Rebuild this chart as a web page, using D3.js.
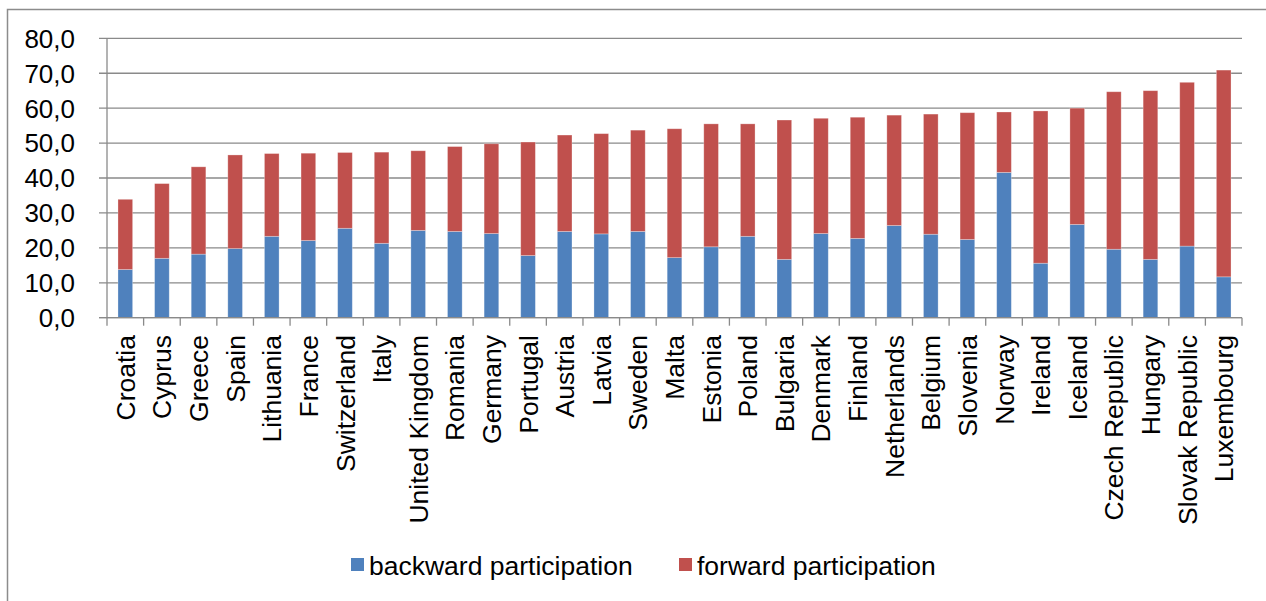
<!DOCTYPE html>
<html>
<head>
<meta charset="utf-8">
<script src="https://cdn.jsdelivr.net/npm/d3@7.9.0/dist/d3.min.js"></script>
<style>
  html, body { margin: 0; padding: 0; background: #fff; }
  svg { display: block; font-family: "Liberation Sans", Arial, sans-serif; }
</style>
</head>
<body>
<svg id="chart" width="1266" height="601"></svg>
<script>
// countries, sorted by total participation
const countries = ['Croatia', 'Cyprus', 'Greece', 'Spain', 'Lithuania', 'France', 'Switzerland',
  'Italy', 'United Kingdom', 'Romania', 'Germany', 'Portugal', 'Austria', 'Latvia', 'Sweden',
  'Malta', 'Estonia', 'Poland', 'Bulgaria', 'Denmark', 'Finland', 'Netherlands', 'Belgium',
  'Slovenia', 'Norway', 'Ireland', 'Iceland', 'Czech Republic', 'Hungary', 'Slovak Republic',
  'Luxembourg'];

const backward = [13.8, 17.0, 18.2, 19.8, 23.3, 22.1, 25.6, 21.3, 25.0, 24.7, 24.1, 17.8, 24.7,
  24.0, 24.7, 17.2, 20.3, 23.3, 16.7, 24.1, 22.7, 26.4, 23.9, 22.4, 41.6, 15.6, 26.7, 19.6,
  16.7, 20.5, 11.7];

const total = [33.9, 38.4, 43.2, 46.6, 47.0, 47.1, 47.3, 47.4, 47.8, 49.0, 49.8, 50.3, 52.3,
  52.7, 53.7, 54.1, 55.5, 55.5, 56.6, 57.1, 57.4, 58.0, 58.3, 58.7, 58.9, 59.2, 60.0, 64.7,
  65.0, 67.4, 70.9];

const forward = total.map((t, i) => +(t - backward[i]).toFixed(1));

const yTicks = [0, 10, 20, 30, 40, 50, 60, 70, 80];
const seriesNames = ['backward participation', 'forward participation'];
const colors = ['#4F81BD', '#C0504D'];

const svg = d3.select('#chart');
const margin = { left: 107, right: 1242, top: 38.3, bottom: 317.7 };
const fontSize = 26.5;

// outer frame (only top and left edges show)
svg.append('path')
  .attr('d', 'M7.5,601 V9.5 H1266')
  .attr('fill', 'none')
  .attr('stroke', '#8c8c8c')
  .attr('stroke-width', 1.5);

const x = d3.scaleBand()
  .domain(countries)
  .range([margin.left, margin.right])
  .paddingInner(0.6)
  .paddingOuter(0.3);

const y = d3.scaleLinear()
  .domain([0, 80])
  .range([margin.bottom, margin.top]);

// gridlines
svg.append('g')
  .selectAll('line')
  .data(yTicks)
  .join('line')
  .attr('x1', margin.left - 8)
  .attr('x2', margin.right)
  .attr('y1', d => y(d))
  .attr('y2', d => y(d))
  .attr('stroke', '#8a8a8a')
  .attr('stroke-width', 1.3);

// y labels
svg.append('g')
  .selectAll('text')
  .data(yTicks)
  .join('text')
  .attr('x', 75)
  .attr('y', d => y(d))
  .attr('dy', '0.36em')
  .attr('text-anchor', 'end')
  .attr('font-size', 26)
  .attr('fill', '#000')
  .text(d => d.toFixed(1).replace('.', ','));

// stacked bars
const stackData = countries.map((c, i) => ({ country: c, backward: backward[i], forward: forward[i] }));
const layers = d3.stack().keys(['backward', 'forward'])(stackData);

svg.append('g')
  .selectAll('g')
  .data(layers)
  .join('g')
  .attr('fill', (d, i) => colors[i])
  .selectAll('rect')
  .data(d => d)
  .join('rect')
  .attr('x', d => x(d.data.country))
  .attr('width', x.bandwidth())
  .attr('y', d => y(d[1]))
  .attr('height', d => y(d[0]) - y(d[1]))
  .attr('stroke', 'rgba(255,255,255,0.35)')
  .attr('stroke-width', 0.8);

// axis lines
svg.append('line')
  .attr('x1', margin.left).attr('x2', margin.left)
  .attr('y1', margin.top).attr('y2', margin.bottom)
  .attr('stroke', '#8a8a8a').attr('stroke-width', 1.3);

svg.append('line')
  .attr('x1', margin.left - 8).attr('x2', margin.right)
  .attr('y1', margin.bottom).attr('y2', margin.bottom)
  .attr('stroke', '#8a8a8a').attr('stroke-width', 1.3);

// x ticks between categories
const tickX = d3.range(countries.length + 1).map(i => margin.left + i * x.step());
svg.append('g')
  .selectAll('line')
  .data(tickX)
  .join('line')
  .attr('x1', d => d).attr('x2', d => d)
  .attr('y1', margin.bottom).attr('y2', margin.bottom + 8)
  .attr('stroke', '#8a8a8a').attr('stroke-width', 1.3);

// x labels, rotated
svg.append('g')
  .selectAll('text')
  .data(countries)
  .join('text')
  .attr('transform', d => `translate(${x(d) + x.bandwidth() / 2},335) rotate(-90)`)
  .attr('dy', '0.36em')
  .attr('text-anchor', 'end')
  .attr('font-size', fontSize)
  .attr('fill', '#000')
  .text(d => d);

// legend
const legendPos = [351, 679];
const legend = svg.append('g')
  .selectAll('g')
  .data(seriesNames)
  .join('g')
  .attr('transform', (d, i) => `translate(${legendPos[i]},565)`);

legend.append('rect')
  .attr('x', 0).attr('y', -7)
  .attr('width', 13).attr('height', 13)
  .attr('fill', (d, i) => colors[i]);

legend.append('text')
  .attr('x', 18)
  .attr('dy', '0.36em')
  .attr('font-size', fontSize)
  .attr('fill', '#000')
  .text(d => d);
</script>
</body>
</html>
